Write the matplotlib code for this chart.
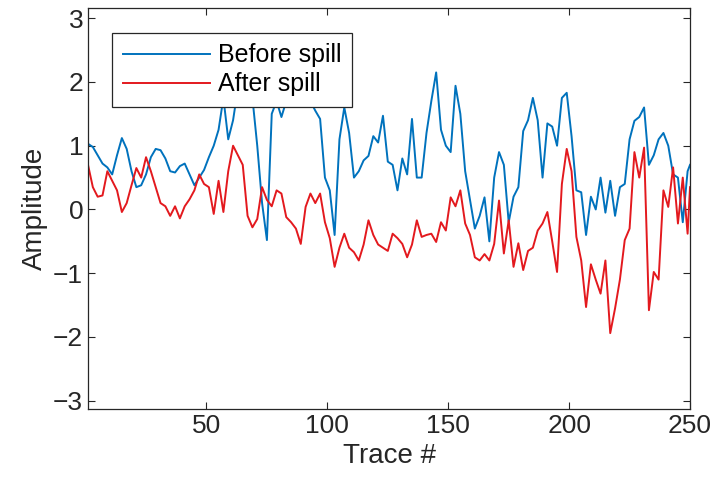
import matplotlib
matplotlib.use("Agg")
import matplotlib.pyplot as plt

# trace numbers (every second trace) and amplitudes
trace = list(range(1, 250, 2)) + [250]

before_spill = [
    1.03, 0.98, 0.85, 0.72, 0.66, 0.55, 0.85, 1.12, 0.95, 0.60,
    0.35, 0.38, 0.55, 0.82, 0.95, 0.93, 0.80, 0.60, 0.58, 0.68,
    0.72, 0.55, 0.38, 0.50, 0.62, 0.82, 1.00, 1.25, 1.75, 1.10,
    1.40, 1.90, 2.00, 1.90, 1.75, 1.00, 0.10, -0.48, 1.50, 1.70,
    1.45, 1.70, 1.90, 2.00, 1.90, 1.80, 1.70, 1.55, 1.42, 0.50,
    0.30, -0.40, 1.10, 1.60, 1.20, 0.50, 0.60, 0.77, 0.84, 1.15,
    1.05, 1.47, 0.75, 0.70, 0.30, 0.80, 0.55, 1.42, 0.50, 0.50,
    1.20, 1.70, 2.15, 1.25, 1.00, 0.90, 1.94, 1.50, 0.60, 0.15,
    -0.30, -0.10, 0.19, -0.50, 0.50, 0.90, 0.70, -0.20, 0.20, 0.35,
    1.23, 1.40, 1.75, 1.40, 0.50, 1.35, 1.30, 1.00, 1.75, 1.83,
    1.15, 0.30, 0.27, -0.40, 0.20, 0.00, 0.50, -0.05, 0.45, -0.10,
    0.35, 0.40, 1.10, 1.39, 1.45, 1.60, 0.70, 0.85, 1.10, 1.20,
    1.00, 0.55, 0.50, -0.20, 0.60, 0.70,
]

after_spill = [
    0.70, 0.35, 0.20, 0.22, 0.60, 0.45, 0.30, -0.04, 0.10, 0.38,
    0.65, 0.50, 0.82, 0.60, 0.35, 0.10, 0.05, -0.10, 0.05, -0.14,
    0.05, 0.16, 0.30, 0.55, 0.40, 0.35, -0.07, 0.45, -0.04, 0.60,
    1.00, 0.85, 0.70, -0.10, -0.28, -0.15, 0.35, 0.15, 0.05, 0.30,
    0.25, -0.12, -0.20, -0.30, -0.54, 0.04, 0.25, 0.10, 0.25, -0.20,
    -0.45, -0.90, -0.60, -0.38, -0.60, -0.67, -0.80, -0.55, -0.17, -0.40,
    -0.55, -0.60, -0.65, -0.38, -0.45, -0.54, -0.75, -0.55, -0.17, -0.43,
    -0.40, -0.38, -0.51, -0.20, -0.33, 0.19, 0.05, 0.30, -0.22, -0.40,
    -0.75, -0.80, -0.70, -0.80, -0.54, 0.14, -0.69, -0.17, -0.90, -0.53,
    -0.95, -0.65, -0.60, -0.33, -0.22, -0.04, -0.50, -0.98, 0.40, 0.95,
    0.60, -0.43, -0.80, -1.53, -0.86, -1.10, -1.32, -0.80, -1.94, -1.55,
    -1.10, -0.48, -0.30, 0.90, 0.50, 0.97, -1.58, -0.98, -1.10, 0.30,
    0.04, 0.66, -0.22, 0.50, -0.38, 0.35,
]

plt.rcParams["font.family"] = ["Liberation Sans", "DejaVu Sans"]

fig = plt.figure(figsize=(7.19, 4.94), dpi=100)
ax = fig.add_axes([0.1224, 0.172, 0.8373, 0.8118])

ax.plot(trace, before_spill, color="#0072BD", lw=1.4, label="Before spill")
ax.plot(trace, after_spill, color="#E3191E", lw=1.4, label="After spill")

ax.set_xlim(1, 250)
ax.set_ylim(-3.13, 3.16)
ax.set_xticks([50, 100, 150, 200, 250])
ax.set_yticks([-3, -2, -1, 0, 1, 2, 3])
ax.tick_params(direction="in", length=5, width=0.8, top=True, right=True,
               labelsize=19, colors="#262626")
for s in ax.spines.values():
    s.set_color("#262626")
    s.set_linewidth(0.9)

ax.set_xlabel("Trace #", fontsize=20, color="#262626", labelpad=4)
ax.set_ylabel("Amplitude", fontsize=20, color="#262626", labelpad=4)

leg = ax.legend(loc="upper left", bbox_to_anchor=(0.04, 0.938), fontsize=18,
                fancybox=False, framealpha=1, edgecolor="#262626",
                handlelength=3.5, handletextpad=0.3, borderpad=0.42,
                labelspacing=0.2, borderaxespad=0)
leg.get_frame().set_linewidth(0.9)

fig.savefig("out.png", dpi=100)
